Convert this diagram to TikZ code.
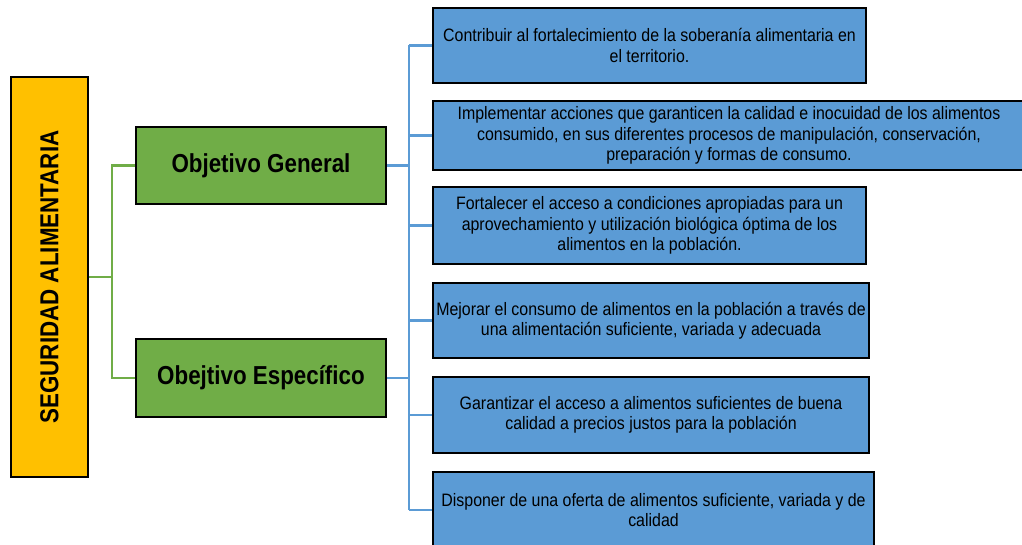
\documentclass[tikz,border=0pt]{standalone}
\usepackage{fontspec}
\setmainfont[FakeStretch=0.86]{Liberation Sans}
\newfontfamily\narrowfont[FakeStretch=0.885]{Liberation Sans}
\definecolor{yel}{HTML}{FFC000}
\definecolor{grn}{HTML}{70AD47}
\definecolor{blu}{HTML}{5B9BD5}
\begin{document}
\begin{tikzpicture}[x=1pt,y=-1pt,
  box/.style={draw=black,line width=2.6pt,inner sep=0pt,align=center},
  ybox/.style={box,fill=yel},
  gbox/.style={box,fill=grn,minimum width=250pt,font=\fontsize{26}{30}\selectfont\bfseries},
  bbox/.style={box,fill=blu,font=\narrowfont\fontsize{18}{20.5}\selectfont},
  gline/.style={draw=grn,line width=2.6pt},
  bline/.style={draw=blu,line width=2.6pt}]
\useasboundingbox (0,0) rectangle (1022,545);
\node[ybox,minimum width=77pt,minimum height=400pt] (Y) at (49.5,277) {};
\node[rotate=90,font=\fontsize{26}{30}\selectfont\bfseries] (Yt) at (Y.center) {SEGURIDAD ALIMENTARIA};
\node[gbox,minimum height=77pt] (OG) at (261,165.5) {Objetivo General};
\node[gbox,minimum height=78pt] (OE) at (261,378) {Obejtivo Específico};
\node[bbox,minimum width=433pt,minimum height=75pt] (B1) at (649.5,45.5) {Contribuir al fortalecimiento de la soberanía alimentaria en\\el territorio.};
\node[bbox,minimum width=592pt,minimum height=69pt] (B2) at (729,135.5) {Implementar acciones que garanticen la calidad e inocuidad de los alimentos\\consumido, en sus diferentes procesos de manipulación, conservación,\\preparación y formas de consumo.};
\node[bbox,minimum width=433pt,minimum height=77pt] (B3) at (649.5,225.5) {Fortalecer el acceso a condiciones apropiadas para un\\aprovechamiento y utilización biológica óptima de los\\alimentos en la población.};
\node[bbox,minimum width=436pt,minimum height=75pt] (B4) at (651,320.5) {Mejorar el consumo de alimentos en la población a través de\\una alimentación suficiente, variada y adecuada};
\node[bbox,minimum width=436pt,minimum height=76pt] (B5) at (651,415) {Garantizar el acceso a alimentos suficientes de buena\\calidad a precios justos para la población};
\node[bbox,minimum width=441pt,minimum height=76pt] (B6) at (653.5,510) {Disponer de una oferta de alimentos suficiente, variada y de\\calidad};
\coordinate (gj) at (112,277);
\coordinate (bj) at (409,277);
\draw[gline] (Y.east) -- (gj);
\draw[gline] (OG.west) -- (OG.west -| gj) -- (OE.west -| gj) -- (OE.west);
\draw[bline] (OG.east) -- (OG.east -| bj);
\draw[bline] (OE.east) -- (OE.east -| bj);
\draw[bline] (B1.west -| bj) -- (B6.west -| bj);
\foreach \b in {B1,B2,B3,B4,B5,B6} \draw[bline] (\b.west -| bj) -- (\b.west);
\end{tikzpicture}
\end{document}
